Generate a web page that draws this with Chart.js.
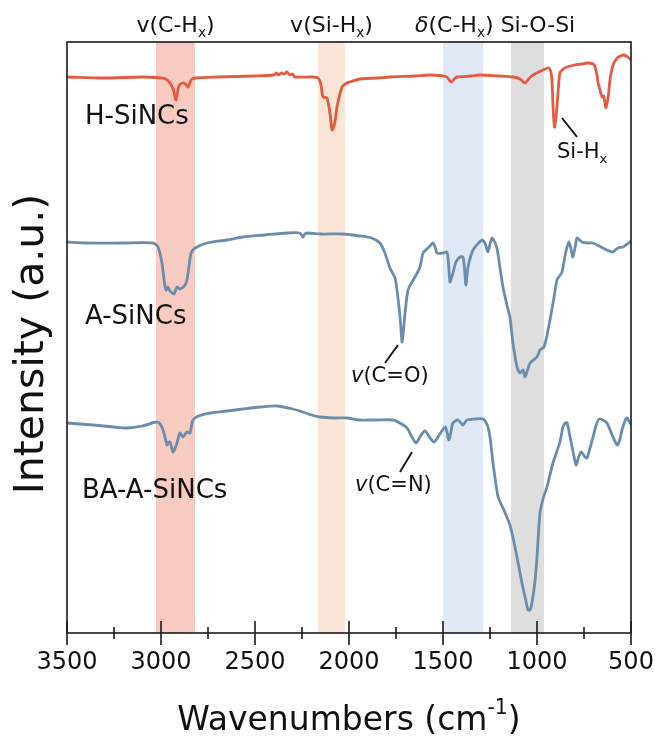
<!DOCTYPE html>
<html>
<head>
<meta charset="utf-8">
<script src="https://cdn.jsdelivr.net/npm/chart.js@4.4.1/dist/chart.umd.min.js"></script>
<style>
html, body { margin: 0; padding: 0; background: #fff; }
</style>
</head>
<body>
<canvas id="ftir" width="660" height="747"></canvas>
<script>
// wavenumbers (cm-1) and intensities (a.u., offset spectra)
var hWave = [3500,3300,3100,3000,2975,2952,2935,2920,2905,2885,2870,2856,2840,2819,2700,2500,2400,2385,2375,2360,2345,2330,2315,2300,2290,2200,2165,2150,2138,2117,2100,2090,2075,2064,2037,2011,1995,1941,1850,1782,1650,1569,1500,1479,1457,1440,1426,1350,1303,1200,1128,1090,1064,1040,1021,968,936,922,914,907,901,894,885,878,860,840,800,760,734,700,691,680,676,665,654,645,633,620,612,595,574,555,542,525,505,500];
var hInt = [556,555,556,555,554,550,544,533,547,550,549,546,553,555,556,557,558,560,558,560,559,561,558,559,556,556,555,549,536,535,518,503,511,526,546,550,551,554,555,556,557,558,557,556,551,554,556,557,558,557,556,554,550,555,558,563,565,556,523,506,512,526,548,560,564,566,568,569,570,569,566,557,551,543,536,537,525,538,553,568,575,577,578,577,574,573];

var aWave = [3500,3400,3200,3043,3016,2995,2980,2973,2963,2955,2947,2931,2915,2900,2888,2872,2862,2850,2840,2819,2755,2650,2564,2450,2330,2261,2250,2245,2235,2218,2150,2032,1941,1880,1835,1809,1782,1755,1745,1734,1725,1718,1710,1702,1686,1665,1649,1622,1606,1580,1560,1553,1540,1532,1500,1479,1470,1463,1455,1447,1431,1410,1394,1385,1378,1367,1340,1293,1277,1261,1250,1239,1225,1213,1195,1181,1160,1144,1128,1106,1090,1074,1064,1050,1037,1000,984,963,950,931,910,894,880,867,850,840,830,820,809,795,787,761,730,702,660,628,596,570,542,520,505,500];
var aInt = [391,390,390,390,386,370,348,343,346,343,341,339,346,344,345,348,353,368,380,385,390,393,396,398,400,400,397,396,399,400,399,399,397,395,390,380,365,355,343,326,308,291,303,320,343,351,356,366,380,385,389,390,385,380,380,381,368,351,355,360,371,376,376,363,348,366,383,393,390,381,389,395,391,385,363,346,328,316,290,266,260,263,256,263,270,276,283,286,295,313,335,353,357,361,378,386,391,385,376,388,395,391,390,390,386,383,381,385,386,389,391,392];

var bWave = [3500,3361,3250,3181,3100,3021,2995,2979,2968,2960,2952,2936,2925,2915,2899,2883,2862,2846,2830,2800,2739,2650,2564,2470,2383,2300,2261,2200,2154,2080,2011,1941,1900,1850,1766,1720,1691,1665,1643,1620,1596,1572,1548,1520,1489,1478,1468,1458,1447,1420,1394,1372,1330,1287,1261,1248,1234,1207,1181,1144,1117,1080,1060,1048,1037,1027,1010,1000,984,965,947,915,878,862,850,840,824,808,792,780,766,755,745,734,718,702,685,670,650,628,600,574,560,548,530,521,505,500];
var bInt = [210,208,206,205,207,211,206,196,188,191,191,181,185,190,200,196,201,200,213,217,220,222,224,226,227,224,222,218,216,215,215,213,213,213,213,209,205,196,190,197,202,196,191,198,206,200,193,201,210,213,208,213,214,214,206,193,170,136,125,108,86,50,33,23,23,30,53,76,120,136,146,170,191,206,210,210,196,181,168,175,181,179,176,175,185,196,208,214,213,210,198,188,193,203,213,215,210,209];

var seriesNames = ['H-SiNCs', 'A-SiNCs', 'BA-A-SiNCs'];
var seriesColors = ['#E35A45', '#6B8DAB', '#6B8DAB'];

// highlighted vibration regions (cm-1)
var bandRanges = [[3027, 2819], [2165, 2021], [1500, 1287], [1138, 963]];
var bandColors = ['rgba(240,160,143,0.55)', 'rgba(246,212,188,0.6)', 'rgba(196,214,235,0.55)', 'rgba(200,200,200,0.6)'];

var xTicks = [3500, 3000, 2500, 2000, 1500, 1000, 500];

function toPoints(w, v) {
    return w.map(function (x, i) { return {x: x, y: v[i]}; });
}

var FONT = '"DejaVu Sans", "Liberation Sans", Arial, sans-serif';

// text made of pieces, some of them sub- or superscript
function richText(ctx, parts, x, y, size, align) {
    var total = 0;
    parts.forEach(function (p) {
        var s = p.sub || p.sup ? size * 0.62 : size;
        ctx.font = (p.italic ? 'italic ' : '') + s + 'px ' + FONT;
        p.w = ctx.measureText(p.t).width;
        total += p.w;
    });
    var cx = align === 'center' ? x - total / 2 : x;
    ctx.textBaseline = 'middle';
    ctx.textAlign = 'left';
    parts.forEach(function (p) {
        var s = p.sub || p.sup ? size * 0.62 : size;
        ctx.font = (p.italic ? 'italic ' : '') + s + 'px ' + FONT;
        var dy = p.sub ? size * 0.32 : (p.sup ? -size * 0.38 : 0);
        ctx.fillText(p.t, cx, y + dy);
        cx += p.w;
    });
}

var bandPlugin = {
    id: 'bands',
    beforeDatasetsDraw: function (chart) {
        var ctx = chart.ctx, area = chart.chartArea, sx = chart.scales.x;
        ctx.save();
        bandRanges.forEach(function (b, i) {
            var x1 = sx.getPixelForValue(b[0]), x2 = sx.getPixelForValue(b[1]);
            ctx.fillStyle = bandColors[i];
            ctx.fillRect(Math.min(x1, x2), area.top, Math.abs(x2 - x1), area.bottom - area.top);
        });
        ctx.restore();
    }
};

var framePlugin = {
    id: 'frame',
    afterDatasetsDraw: function (chart) {
        var ctx = chart.ctx, area = chart.chartArea, sx = chart.scales.x;
        ctx.save();
        ctx.strokeStyle = '#1a1a1a';
        ctx.lineWidth = 1.6;
        ctx.strokeRect(area.left, area.top, area.right - area.left, area.bottom - area.top);

        // crossing ticks on the bottom axis
        for (var v = 500; v <= 3500; v += 250) {
            var px = sx.getPixelForValue(v);
            var len = v % 500 === 0 ? 12 : 6;
            ctx.beginPath();
            ctx.moveTo(px, area.bottom - len);
            ctx.lineTo(px, area.bottom + len);
            ctx.stroke();
        }

        ctx.fillStyle = '#111';
        // band headings
        richText(ctx, [{t: 'v(C-H'}, {t: 'x', sub: true}, {t: ')'}], sx.getPixelForValue(2923), 26, 22, 'center');
        richText(ctx, [{t: 'v(Si-H'}, {t: 'x', sub: true}, {t: ')'}], sx.getPixelForValue(2093), 26, 22, 'center');
        richText(ctx, [{t: 'δ', italic: true}, {t: '(C-H'}, {t: 'x', sub: true}, {t: ')'}], sx.getPixelForValue(1440), 26, 22, 'center');
        richText(ctx, [{t: 'Si-O-Si'}], sx.getPixelForValue(995), 26, 22, 'center');

        // sample names
        richText(ctx, [{t: seriesNames[0]}], 85, 117, 26, 'left');
        richText(ctx, [{t: seriesNames[1]}], 85, 317, 26, 'left');
        richText(ctx, [{t: seriesNames[2]}], 82, 491, 26, 'left');

        // peak assignments with leader lines
        ctx.lineWidth = 2;
        ctx.beginPath();
        ctx.moveTo(562, 118); ctx.lineTo(577, 137);
        ctx.moveTo(398, 345); ctx.lineTo(385, 363);
        ctx.moveTo(412, 452); ctx.lineTo(400, 472);
        ctx.stroke();
        richText(ctx, [{t: 'Si-H'}, {t: 'x', sub: true}], 557, 153, 21, 'left');
        richText(ctx, [{t: 'v', italic: true}, {t: '(C=O)'}], 351, 377, 21, 'left');
        richText(ctx, [{t: 'v', italic: true}, {t: '(C=N)'}], 355, 486, 21, 'left');

        // axis titles
        richText(ctx, [{t: 'Wavenumbers (cm'}, {t: '-1', sup: true}, {t: ')'}], (area.left + area.right) / 2, 721, 33, 'center');
        ctx.translate(32, 344);
        ctx.rotate(-Math.PI / 2);
        richText(ctx, [{t: 'Intensity (a.u.)'}], 0, 0, 41, 'center');
        ctx.restore();
    }
};

var datasets = seriesNames.map(function (name, i) {
    var pts = [toPoints(hWave, hInt), toPoints(aWave, aInt), toPoints(bWave, bInt)][i];
    return {
        label: name,
        data: pts,
        borderColor: seriesColors[i],
        borderWidth: 2.8,
        pointRadius: 0,
        tension: 0.25,
        fill: false
    };
});

new Chart(document.getElementById('ftir'), {
    type: 'line',
    data: {datasets: datasets},
    options: {
        responsive: false,
        animation: false,
        devicePixelRatio: 1,
        layout: {padding: {left: 67, right: 29, top: 42, bottom: 0}},
        plugins: {legend: {display: false}, tooltip: {enabled: false}},
        scales: {
            x: {
                type: 'linear',
                reverse: true,
                min: 500,
                max: 3500,
                grid: {display: false, drawTicks: false},
                border: {display: false},
                afterBuildTicks: function (scale) {
                    scale.ticks = xTicks.map(function (v) { return {value: v}; });
                },
                ticks: {
                    autoSkip: false,
                    maxRotation: 0,
                    padding: 15,
                    color: '#111',
                    font: {family: FONT, size: 24},
                    callback: function (v) { return String(v); }
                },
                afterFit: function (scale) {
                    scale.height = 114;
                    scale.paddingLeft = 0;
                    scale.paddingRight = 0;
                }
            },
            y: {
                display: false,
                min: 0,
                max: 591
            }
        }
    },
    plugins: [bandPlugin, framePlugin]
});
</script>
</body>
</html>
